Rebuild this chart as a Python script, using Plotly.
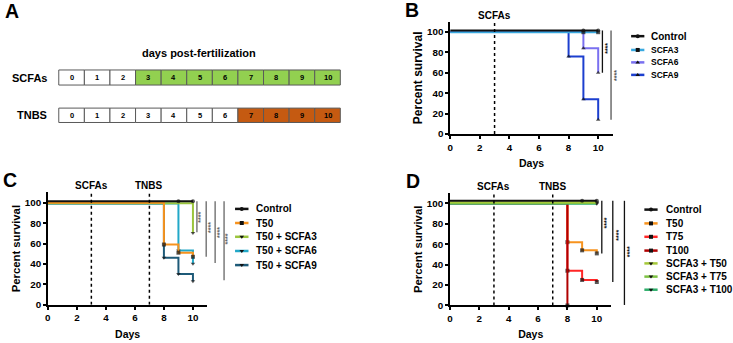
import plotly.graph_objects as go

W, H = 733, 343
FONT = "Liberation Sans, Arial, sans-serif"

# ---------------- data ----------------
# Panel A: exposure schedule (days post-fertilization)
schedule_days = list(range(11))
scfa_start_day = 3
tnbs_start_day = 7

# Panel B: SCFA toxicity
b_groups = ["Control", "SCFA3", "SCFA6", "SCFA9"]
b_days = [[0, 9, 10], [0, 9, 10], [0, 9, 10], [0, 8, 9, 10]]
b_survival = [[100, 100, 100], [100, 100, 100], [100, 84, 60], [100, 76, 34, 14]]
b_sig_pairs = [(0, 2), (0, 3)]
b_sig_labels = ["****", "****"]

# Panel C: TNBS 50 with SCFA pre-treatment
c_groups = ["Control", "T50", "T50 + SCFA3", "T50 + SCFA6", "T50 + SCFA9"]
c_days = [[0, 9, 10], [0, 8, 9, 10], [0, 10], [0, 9, 10], [0, 8, 9, 10]]
c_survival = [[100, 100, 100], [100, 59, 51, 47], [100, 71], [100, 54, 41], [100, 47, 31, 24]]
c_sig_pairs = [(0, 2), (0, 1), (0, 3), (0, 4)]
c_sig_labels = ["****", "****", "****", "****"]

# Panel D: TNBS dose series with SCFA3
d_groups = ["Control", "T50", "T75", "T100", "SCFA3 + T50", "SCFA3 + T75", "SCFA3 + T100"]
d_days = [[0, 9, 10], [0, 8, 9, 10], [0, 8, 9, 10], [0, 8], [0, 10], [0, 10], [0, 10]]
d_survival = [[100, 100, 100], [100, 62, 54, 51], [100, 34, 25, 23], [100, 0],
              [100, 100], [100, 100], [100, 100]]
d_sig_pairs = [(0, 1), (0, 2), (0, 3)]
d_sig_labels = ["****", "****", "****"]

# ---------------- styles ----------------
b_style = dict(colors=["#111111", "#38A9E0", "#7A70F0", "#1C3FCF"],
               symbols=["circle", "square", "triangle-up", "triangle-up"],
               lift=[1.4, -0.3, 0, 0], order=[3, 2, 1, 0])
c_style = dict(colors=["#111111", "#F7931E", "#9BC53D", "#22A8C8", "#1E5A78"],
               symbols=["circle", "square", "triangle-down", "triangle-down", "triangle-down"],
               lift=[1.3, 0, -0.6, -0.9, -0.9], order=[4, 3, 2, 1, 0])
d_style = dict(colors=["#111111", "#F7931E", "#FF2626", "#B00000", "#A6C93A", "#7DC243", "#2FAE6B"],
               symbols=["circle", "square", "square", "square", "triangle-down", "triangle-down", "triangle-down"],
               lift=[2.5, 0, 0, 0, 1.2, 0.4, -0.5], order=[1, 2, 3, 6, 5, 4, 0])

X_MAX, Y_MAX = 11, 110

fig = go.Figure()


def px_x(p):
    return p / W


def px_y(p):
    return 1 - p / H


# subplot domains (B, C, D) and a full-page pixel canvas (x4/y4)
domains = {
    "": ([px_x(449), px_x(612.5)], [px_y(136), px_y(22)]),
    "2": ([px_x(45), px_x(205.3)], [px_y(309.3), px_y(195.3)]),
    "3": ([px_x(448.7), px_x(611)], [px_y(310), px_y(196)]),
}

tick_font = dict(family=FONT, size=9.8, color="black", weight="bold")
layout = dict(
    width=W, height=H, margin=dict(l=0, r=0, t=0, b=0),
    paper_bgcolor="white", plot_bgcolor="rgba(0,0,0,0)",
    showlegend=False, font=dict(family=FONT, color="black"),
)
ytitle_size = {"": 12, "2": 11.3, "3": 11.3}
for key, (dx, dy) in domains.items():
    common = dict(showline=True, linecolor="black", linewidth=1.5, ticks="outside",
                  ticklen=3, tickwidth=1.5, tickcolor="black", showgrid=False,
                  zeroline=False, tickfont=tick_font, fixedrange=True)
    layout["xaxis" + key] = dict(common, domain=dx, range=[0, X_MAX], tick0=0, dtick=2,
                                 anchor="y" + key,
                                 title=dict(text="Days", standoff=8,
                                            font=dict(family=FONT, size=10.5, weight="bold")))
    layout["yaxis" + key] = dict(common, domain=dy, range=[0, Y_MAX],
                                 tickvals=[0, 20, 40, 60, 80, 100], anchor="x" + key,
                                 title=dict(text="Percent survival", standoff=2,
                                            font=dict(family=FONT, size=ytitle_size[key], weight="bold")))
layout["xaxis4"] = dict(domain=[0, 1], range=[0, W], visible=False, fixedrange=True, anchor="y4")
layout["yaxis4"] = dict(domain=[0, 1], range=[H, 0], visible=False, fixedrange=True, anchor="x4")

shapes, annotations = [], []


def add_panel(groups, days, survival, style, key, sig_pairs, sig_labels, sig_x, sig_tx,
              sig_color, tx_shift, markers):
    xa, ya = "x" + key, "y" + key
    for i in style["order"]:
        lift = style["lift"][i]
        n = len(days[i])
        fig.add_trace(go.Scatter(
            x=days[i], y=[s + lift for s in survival[i]], mode="lines+markers",
            line=dict(color=style["colors"][i], width=2, shape="hv"),
            marker=dict(symbol=style["symbols"][i], size=[0] + [markers] * (n - 1),
                        color="#111111", line=dict(width=0)),
            xaxis=xa, yaxis=ya, hoverinfo="skip", cliponaxis=False, name=groups[i]))
    # significance brackets: from the reference group down to the compared group's end value
    for j, (a, b) in enumerate(sig_pairs):
        top = survival[a][-1] + style["lift"][a]
        bottom = survival[b][-1]
        shapes.append(dict(type="line", xref=xa + " domain", yref=ya + " domain",
                           x0=sig_x[j], x1=sig_x[j], y0=top / Y_MAX, y1=max(bottom, 0.5) / Y_MAX,
                           line=dict(color=sig_color[j], width=1.3)))
        annotations.append(dict(text=sig_labels[j], xref=xa + " domain", yref=ya,
                                x=sig_tx[j], y=(top + bottom) / 2 + tx_shift[j], showarrow=False,
                                textangle=-90, xanchor="center", yanchor="middle",
                                font=dict(family=FONT, size=7, color=sig_color[j], weight="bold")))


add_panel(b_groups, b_days, b_survival, b_style, "", b_sig_pairs, b_sig_labels,
          [0.935, 0.988], [0.965, 1.018], ["#111111", "#555555"], [3, 0], 4)
add_panel(c_groups, c_days, c_survival, c_style, "2", c_sig_pairs, c_sig_labels,
          [0.934, 0.992, 1.048, 1.104], [0.959, 1.015, 1.071, 1.127],
          ["#666666"] * 4, [0, 2, 0, 2], 4)
add_panel(d_groups, d_days, d_survival, d_style, "3", d_sig_pairs, d_sig_labels,
          [0.940, 1.008, 1.080], [0.969, 1.043, 1.109], ["#111111"] * 3, [4, 6, 1], 4)

# treatment start markers
for key, marks in [("", [(scfa_start_day, "SCFAs")]),
                   ("2", [(scfa_start_day, "SCFAs"), (tnbs_start_day, "TNBS")]),
                   ("3", [(scfa_start_day, "SCFAs"), (tnbs_start_day, "TNBS")])]:
    for day, label in marks:
        shapes.append(dict(type="line", xref="x" + key, yref="y" + key, x0=day, x1=day,
                           y0=0, y1=Y_MAX, line=dict(color="black", width=1.5, dash="dot")))
        annotations.append(dict(text=label, xref="x" + key, yref="y" + key, x=day, y=Y_MAX,
                                yanchor="bottom", xanchor="center", showarrow=False, yshift=-1,
                                font=dict(family=FONT, size=10, weight="bold")))

# custom legends drawn on the pixel canvas
legend_specs = [
    (b_groups, b_style, 630.7, 644, 649, [36.7, 50.7, 63.3, 76], [10, 8.5, 8.5, 8.5]),
    (c_groups, c_style, 233, 246.5, 251.7, [212, 226.3, 240.3, 254.7, 269], [10] * 5),
    (d_groups, d_style, 644, 657.3, 663.3, [212.7, 226.7, 240.3, 254.3, 267.3, 280.7, 294], [10] * 7),
]
for groups, style, lx0, lx1, tx, rows, sizes in legend_specs:
    for i, name in enumerate(groups):
        y = rows[i]
        fig.add_trace(go.Scatter(x=[lx0, lx1], y=[y, y], mode="lines",
                                 line=dict(color=style["colors"][i], width=2.5),
                                 xaxis="x4", yaxis="y4", hoverinfo="skip"))
        fig.add_trace(go.Scatter(x=[(lx0 + lx1) / 2], y=[y], mode="markers",
                                 marker=dict(symbol=style["symbols"][i], size=4, color="#111111"),
                                 xaxis="x4", yaxis="y4", hoverinfo="skip"))
        annotations.append(dict(text=name, xref="x4", yref="y4", x=tx, y=y, xanchor="left",
                                yanchor="middle", showarrow=False,
                                font=dict(family=FONT, size=sizes[i], weight="bold")))

# Panel A: schedule grid
box_x0, box_w = 56, 25.7
rows_a = [("SCFAs", 71, 86.3, scfa_start_day, "#92D050"),
          ("TNBS", 109.7, 124.3, tnbs_start_day, "#C55A11")]
for label, y0, y1, start, fill in rows_a:
    for d in schedule_days:
        x0 = box_x0 + d * box_w
        shapes.append(dict(type="rect", xref="x4", yref="y4", x0=x0, x1=x0 + box_w, y0=y0, y1=y1,
                           fillcolor=fill if d >= start else "white",
                           line=dict(color="#5a5a5a", width=1)))
        annotations.append(dict(text=str(d), xref="x4", yref="y4", x=x0 + box_w / 2,
                                y=(y0 + y1) / 2, showarrow=False, xanchor="center", yanchor="middle",
                                font=dict(family=FONT, size=7.5, weight="bold")))
    annotations.append(dict(text=label, xref="x4", yref="y4", x=46, y=(y0 + y1) / 2,
                            xanchor="right", yanchor="middle", showarrow=False,
                            font=dict(family=FONT, size=11, weight="bold")))
annotations.append(dict(text="days post-fertilization", xref="x4", yref="y4", x=197, y=54,
                        xanchor="center", yanchor="middle", showarrow=False,
                        font=dict(family=FONT, size=11, weight="bold")))

# panel letters
for letter, x, y in [("A", 9.5, 11.5), ("B", 410.5, 10.5), ("C", 7.5, 182.5), ("D", 411.5, 183.5)]:
    annotations.append(dict(text=letter, xref="x4", yref="y4", x=x, y=y, xanchor="center",
                            yanchor="middle", showarrow=False,
                            font=dict(family=FONT, size=19.5, weight="bold")))

layout["shapes"] = shapes
layout["annotations"] = annotations
fig.update_layout(**layout)
fig.write_html("out.html")
